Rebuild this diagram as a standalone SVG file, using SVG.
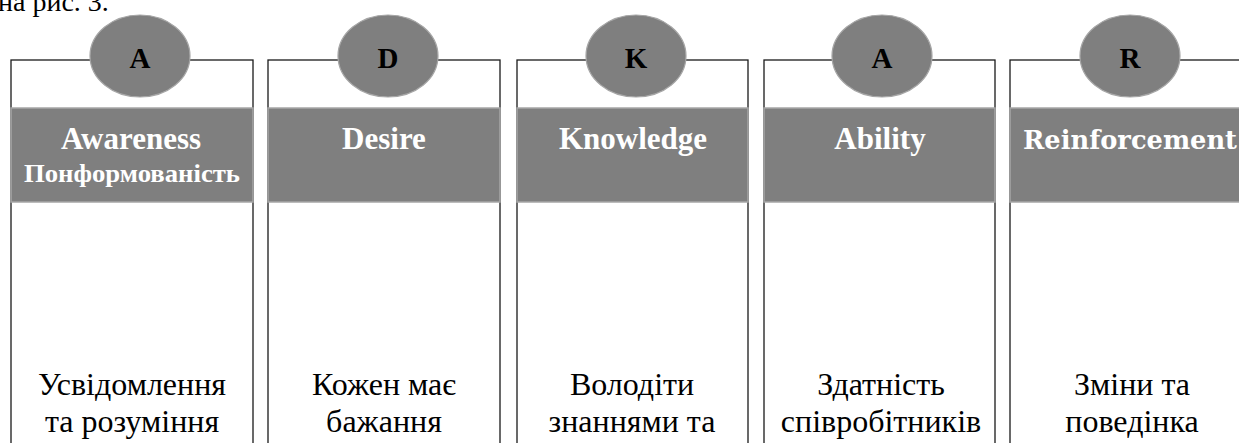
<svg xmlns="http://www.w3.org/2000/svg" width="1239" height="443" viewBox="0 0 1239 443">
<style>
.box{fill:#fff;stroke:#1a1a1a;stroke-width:1.3}
.band{fill:#7f7f7f;stroke:#a6a6a6;stroke-width:1.5}
.oval{fill:#7f7f7f;stroke:#a6a6a6;stroke-width:1.2}
.letter{font-family:'Liberation Serif',serif;font-weight:bold;font-size:29px;fill:#000;text-anchor:middle}
.title{font-family:'Liberation Serif',serif;font-weight:bold;font-size:31px;fill:#fff;text-anchor:middle}
.sub{font-family:'Liberation Serif',serif;font-weight:bold;font-size:26px;fill:#fff;text-anchor:middle}
.body{font-family:'Liberation Serif',serif;font-size:32px;fill:#000;text-anchor:middle}
.cap{font-family:'Liberation Serif',serif;font-size:28px;fill:#000}
</style>
<rect width="1239" height="443" fill="#fff"/>
<text class="cap" x="-2" y="11">на рис. 3.</text>
<g id="node-awareness">
<rect class="box" x="11" y="60" width="242" height="400"/>
<rect class="band" x="11" y="108" width="242" height="94"/>
<ellipse class="oval" cx="140" cy="56" rx="50" ry="41"/>
<text class="letter" x="140" y="68">A</text>
<text class="title" x="131" y="149">Awareness</text>
<text class="sub" x="132" y="182" textLength="216" lengthAdjust="spacingAndGlyphs">Понформованість</text>
<text class="body" x="132" y="395">Усвідомлення</text>
<text class="body" x="132" y="432">та розуміння</text>
</g>
<g id="node-desire">
<rect class="box" x="268" y="60" width="232" height="400"/>
<rect class="band" x="268" y="108" width="232" height="94"/>
<ellipse class="oval" cx="388" cy="56" rx="50" ry="41"/>
<text class="letter" x="388" y="68">D</text>
<text class="title" x="384" y="149">Desire</text>
<text class="body" x="384" y="395">Кожен має</text>
<text class="body" x="384" y="432">бажання</text>
</g>
<g id="node-knowledge">
<rect class="box" x="517" y="60" width="231" height="400"/>
<rect class="band" x="517" y="108" width="231" height="94"/>
<ellipse class="oval" cx="636" cy="56" rx="50" ry="41"/>
<text class="letter" x="636" y="68">K</text>
<text class="title" x="633" y="149">Knowledge</text>
<text class="body" x="632" y="395">Володіти</text>
<text class="body" x="632" y="432">знаннями та</text>
</g>
<g id="node-ability">
<rect class="box" x="764" y="60" width="231" height="400"/>
<rect class="band" x="764" y="108" width="231" height="94"/>
<ellipse class="oval" cx="882" cy="56" rx="50" ry="41"/>
<text class="letter" x="882" y="68">A</text>
<text class="title" x="880" y="149">Ability</text>
<text class="body" x="881" y="395">Здатність</text>
<text class="body" x="881" y="432">співробітників</text>
</g>
<g id="node-reinforcement">
<rect class="box" x="1010" y="60" width="244" height="400"/>
<rect class="band" x="1010" y="108" width="244" height="94"/>
<ellipse class="oval" cx="1130" cy="56" rx="50" ry="41"/>
<text class="letter" x="1130" y="68">R</text>
<text x="1023" y="149" font-family="'DejaVu Serif',serif" font-weight="bold" font-size="26" fill="#fff" textLength="214" lengthAdjust="spacingAndGlyphs">Reinforcement</text>
<text class="body" x="1132" y="395">Зміни та</text>
<text class="body" x="1132" y="432">поведінка</text>
</g>
<g id="connectors"/>
</svg>
